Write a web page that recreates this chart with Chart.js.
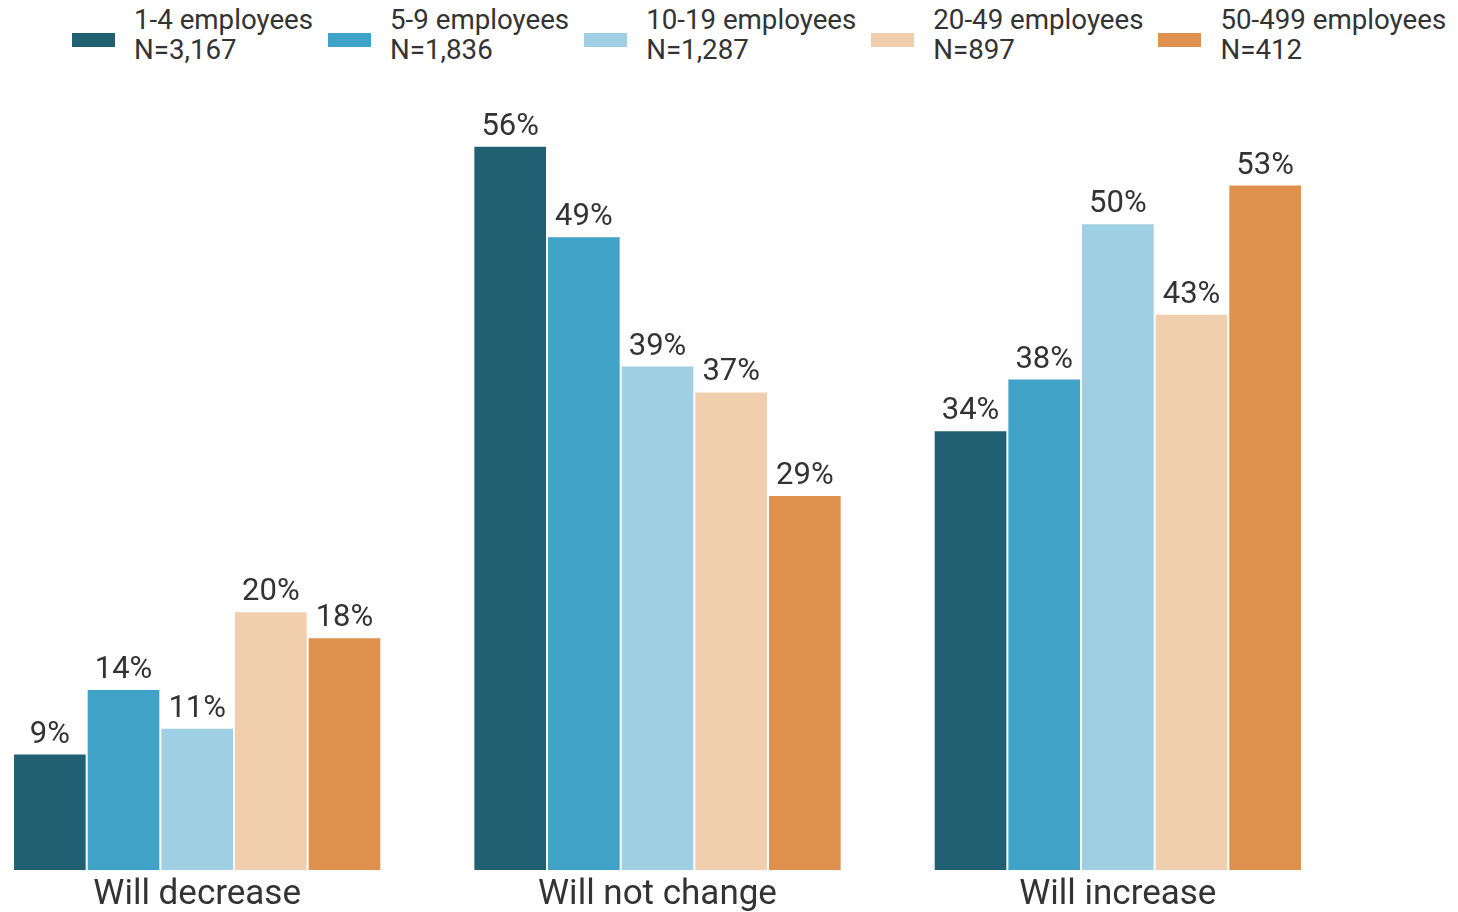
<!DOCTYPE html>
<html>
<head>
<meta charset="utf-8">
<script src="https://cdn.jsdelivr.net/npm/chart.js@4/dist/chart.umd.min.js"></script>
<style>
  html, body { margin: 0; padding: 0; background: #fff; }
  body { width: 1458px; height: 912px; position: relative; overflow: hidden; font-family: Roboto, sans-serif; }
  #legend { position: absolute; left: 72px; top: 5px; display: flex; gap: 15px; color: #333; font-size: 27.7px; line-height: 30px; }
  .item { display: flex; align-items: flex-start; }
  .swatch { width: 43px; height: 14px; margin-top: 28px; margin-right: 19px; }
  #wrap { position: absolute; left: -33px; top: 0; width: 1381px; height: 920px; }
</style>
</head>
<body>
<div id="legend"></div>
<div id="wrap"><canvas id="chart"></canvas></div>
<script>
const categories = ['Will decrease', 'Will not change', 'Will increase'];
const groups = ['1-4 employees', '5-9 employees', '10-19 employees', '20-49 employees', '50-499 employees'];
const sampleSizes = ['N=3,167', 'N=1,836', 'N=1,287', 'N=897', 'N=412'];
const colors = ['#215f73', '#41a2c7', '#9ecfe2', '#f1cead', '#de914d'];
const values = [
  [9, 56, 34],
  [14, 49, 38],
  [11, 39, 50],
  [20, 37, 43],
  [18, 29, 53],
];

// legend (two-line labels)
document.getElementById('legend').innerHTML = groups.map((g, i) => `
  <div class="item">
    <div class="swatch" style="background:${colors[i]}"></div>
    <div>${g}<br>${sampleSizes[i]}</div>
  </div>`).join('');

const barLabels = {
  id: 'barLabels',
  afterDatasetsDraw(chart) {
    const ctx = chart.ctx;
    ctx.save();
    ctx.font = '31px Roboto';
    ctx.fillStyle = '#333';
    ctx.textAlign = 'center';
    ctx.textBaseline = 'alphabetic';
    chart.data.datasets.forEach((ds, i) => {
      chart.getDatasetMeta(i).data.forEach((bar, j) => {
        ctx.fillText(`${ds.data[j]}%`, bar.x, bar.y - 11);
      });
    });
    ctx.restore();
  }
};

new Chart(document.getElementById('chart'), {
  type: 'bar',
  data: {
    labels: categories,
    datasets: groups.map((g, i) => ({
      label: g,
      data: values[i],
      backgroundColor: colors[i],
      borderColor: '#ffffff',
      borderWidth: 1,
      borderSkipped: 'bottom',
    })),
  },
  options: {
    responsive: true,
    maintainAspectRatio: false,
    animation: false,
    layout: { padding: { top: 94 } },
    datasets: { bar: { categoryPercentage: 0.8, barPercentage: 1 } },
    plugins: {
      legend: { display: false },
      tooltip: { enabled: false },
    },
    scales: {
      x: {
        grid: { display: false, drawTicks: false },
        border: { display: false },
        ticks: { color: '#333', font: { family: 'Roboto', size: 35, lineHeight: 1.2 }, padding: 4 },
      },
      y: {
        display: false,
        min: 0,
        max: 60,
      },
    },
  },
  plugins: [barLabels],
});
</script>
</body>
</html>
